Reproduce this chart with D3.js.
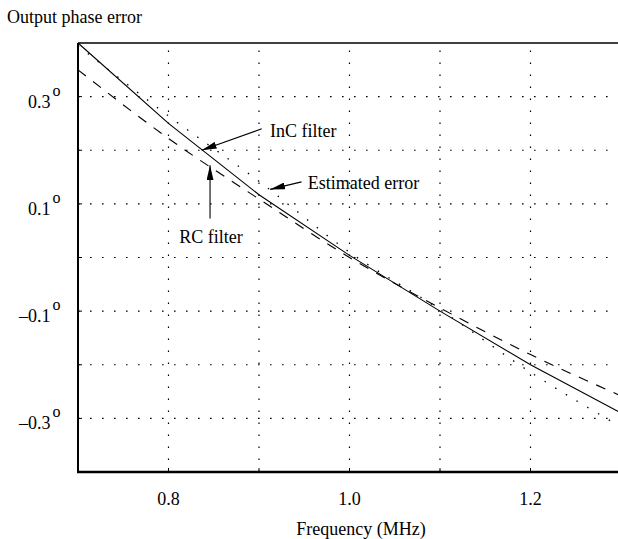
<!DOCTYPE html>
<html><head><meta charset="utf-8">
<script src="https://cdn.jsdelivr.net/npm/d3@7"></script>
<style>
html,body{margin:0;padding:0;background:#fff;}
svg{display:block;}
text{font-family:"Liberation Serif","Times New Roman",serif;fill:#000;}
</style></head>
<body>
<svg id="chart" width="618" height="539"></svg>
<script>
// ---- data ----
const freq = [0.7, 0.8, 0.9, 1.0, 1.1, 1.2, 1.3];
const incFilter = [0.40, 0.25, 0.117, 0.004, -0.10, -0.20, -0.29];
const rcFilter = [0.35, 0.222, 0.109, 0.0, -0.094, -0.181, -0.258];
const estimated = [0.395, 0.264, 0.142, 0.01, -0.097, -0.214, -0.316];
const xTickLabels = [0.8, 1.0, 1.2];
const xGrid = [0.8, 0.9, 1.0, 1.1, 1.2];
const yTickLabels = [0.3, 0.1, -0.1, -0.3];
const yGrid = [0.3, 0.2, 0.1, 0.0, -0.1, -0.2, -0.3];
const annotations = [
  {label: "InC filter", tx: 0.9122, ty: 0.224, from: [0.903, 0.240], to: [0.8367, 0.200], anchor: "start"},
  {label: "Estimated error", tx: 0.954, ty: 0.127, from: [0.947, 0.141], to: [0.9122, 0.127], anchor: "start"},
  {label: "RC filter", tx: 0.847, ty: 0.027, from: [0.8459, 0.0726], to: [0.8459, 0.172], anchor: "middle"}
];

const svg = d3.select("#chart");
const x = d3.scaleLinear().domain([0.7, 1.3]).range([78, 621]);
const y = d3.scaleLinear().domain([-0.4, 0.4]).range([472, 43]);

// grid
const g = svg.append("g");
g.selectAll("line.hg").data(yGrid).join("line")
  .attr("x1", x(0.7)).attr("x2", x(1.3))
  .attr("y1", d => y(d)).attr("y2", d => y(d))
  .attr("stroke", "#000").attr("stroke-width", 1.2).attr("stroke-dasharray", "1.6,10.4");
g.selectAll("line.vg").data(xGrid).join("line")
  .attr("x1", d => x(d)).attr("x2", d => x(d))
  .attr("y1", y(-0.4)).attr("y2", y(0.4))
  .attr("stroke", "#000").attr("stroke-width", 1.2).attr("stroke-dasharray", "1.6,10.4");
// small inward ticks
g.selectAll("line.yt").data(yGrid).join("line")
  .attr("x1", x(0.7)).attr("x2", x(0.7) + 4)
  .attr("y1", d => y(d)).attr("y2", d => y(d))
  .attr("stroke", "#000").attr("stroke-width", 1);
g.selectAll("line.xt").data(xGrid).join("line")
  .attr("x1", d => x(d)).attr("x2", d => x(d))
  .attr("y1", y(-0.4)).attr("y2", y(-0.4) - 4)
  .attr("stroke", "#000").attr("stroke-width", 1);

// frame
svg.append("line").attr("x1", x(0.7)).attr("x2", x(1.3)).attr("y1", y(0.4)).attr("y2", y(0.4))
  .attr("stroke", "#000").attr("stroke-width", 1.5);
svg.append("line").attr("x1", x(0.7)).attr("x2", x(0.7)).attr("y1", y(0.4)).attr("y2", y(-0.4))
  .attr("stroke", "#000").attr("stroke-width", 2);
svg.append("line").attr("x1", x(0.7) - 1).attr("x2", x(1.3)).attr("y1", y(-0.4)).attr("y2", y(-0.4))
  .attr("stroke", "#000").attr("stroke-width", 2.5);

// curves
const line = d3.line().x((d, i) => x(freq[i])).y(d => y(d));
const smooth = d3.line().x((d, i) => x(freq[i])).y(d => y(d)).curve(d3.curveMonotoneX);
svg.append("path").attr("d", line(incFilter)).attr("fill", "none")
  .attr("stroke", "#000").attr("stroke-width", 1.1);
svg.append("path").attr("d", smooth(rcFilter)).attr("fill", "none")
  .attr("stroke", "#000").attr("stroke-width", 1.1).attr("stroke-dasharray", "10,9");
svg.append("path").attr("d", smooth(estimated)).attr("fill", "none")
  .attr("stroke", "#000").attr("stroke-width", 1.3).attr("stroke-dasharray", "1.5,11");

// tick labels
svg.selectAll("text.xl").data(xTickLabels).join("text")
  .attr("x", d => x(d)).attr("y", 505).attr("text-anchor", "middle")
  .attr("font-size", 18).text(d => d.toFixed(1));
const yl = svg.selectAll("g.yl").data(yTickLabels).join("g");
yl.append("text").attr("x", 50.5).attr("y", d => y(d) + 11).attr("text-anchor", "end")
  .attr("font-size", 18).text(d => (d < 0 ? "\u2013" : "") + Math.abs(d).toFixed(1));
yl.append("text").attr("x", 52.5).attr("y", d => y(d) - 1).attr("font-size", 16).text("o");

// axis titles
svg.append("text").attr("x", 7).attr("y", 23).attr("font-size", 18).text("Output phase error");
svg.append("text").attr("x", 361).attr("y", 535).attr("text-anchor", "middle")
  .attr("font-size", 18).text("Frequency (MHz)");

// annotations with arrows
const defs = svg.append("defs");
defs.append("marker").attr("id", "ah").attr("viewBox", "0 0 15 7")
  .attr("refX", 15).attr("refY", 3.5).attr("markerWidth", 15).attr("markerHeight", 7)
  .attr("markerUnits", "userSpaceOnUse").attr("orient", "auto")
  .append("path").attr("d", "M0,0 L15,3.5 L0,7 Z").attr("fill", "#000");
const an = svg.selectAll("g.an").data(annotations).join("g");
an.append("line")
  .attr("x1", d => x(d.from[0])).attr("y1", d => y(d.from[1]))
  .attr("x2", d => x(d.to[0])).attr("y2", d => y(d.to[1]))
  .attr("stroke", "#000").attr("stroke-width", 1.1).attr("marker-end", "url(#ah)");
an.append("text").attr("x", d => x(d.tx)).attr("y", d => y(d.ty))
  .attr("text-anchor", d => d.anchor).attr("font-size", 18).text(d => d.label);
</script>
</body></html>
